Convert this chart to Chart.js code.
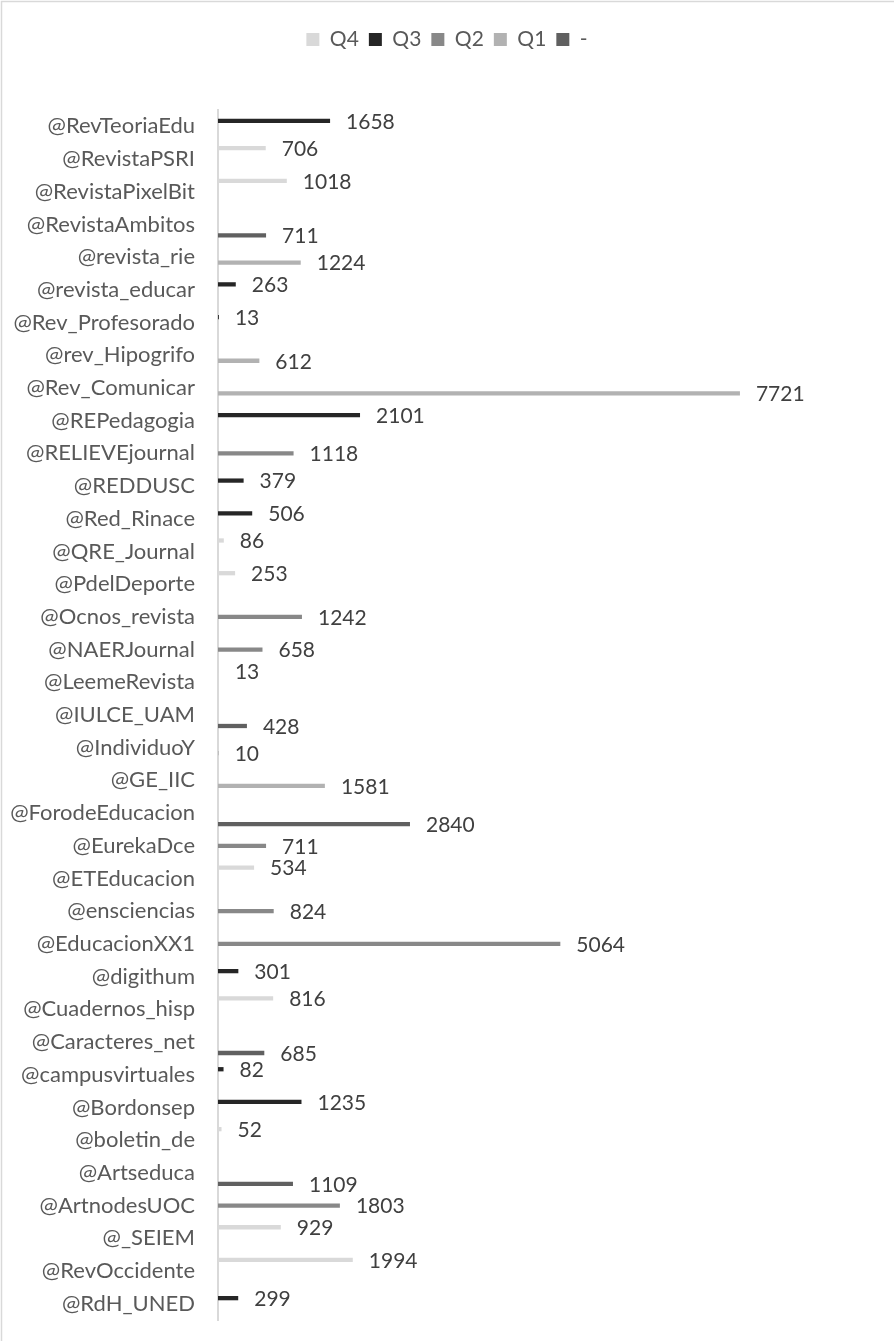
<!DOCTYPE html>
<html>
<head>
<meta charset="utf-8">
<script src="https://cdn.jsdelivr.net/npm/chart.js@4/dist/chart.umd.min.js"></script>
<style>
  html, body { margin: 0; padding: 0; background: #ffffff; }
  #wrap { width: 894px; height: 1341px; position: relative; }
  canvas { display: block; }
</style>
</head>
<body>
<div id="wrap"><canvas id="c" width="894" height="1341"></canvas></div>
<script>
// ---- Data ----
const categories = [
  "@RevTeoriaEdu", "@RevistaPSRI", "@RevistaPixelBit", "@RevistaAmbitos", "@revista_rie",
  "@revista_educar", "@Rev_Profesorado", "@rev_Hipogrifo", "@Rev_Comunicar", "@REPedagogia",
  "@RELIEVEjournal", "@REDDUSC", "@Red_Rinace", "@QRE_Journal", "@PdelDeporte",
  "@Ocnos_revista", "@NAERJournal", "@LeemeRevista", "@IULCE_UAM", "@IndividuoY",
  "@GE_IIC", "@ForodeEducacion", "@EurekaDce", "@ETEducacion", "@ensciencias",
  "@EducacionXX1", "@digithum", "@Cuadernos_hisp", "@Caracteres_net", "@campusvirtuales",
  "@Bordonsep", "@boletin_de", "@Artseduca", "@ArtnodesUOC", "@_SEIEM",
  "@RevOccidente", "@RdH_UNED"
];
const seriesNames = ["Q4", "Q3", "Q2", "Q1", "-"];
const n = null;
const valuesQ4   = [n,  706, 1018,    n,    n,    n,    n,    n,    n,    n,    n,    n,    n,   86,  253,    n,    n,   13,    n,    n,    n,    n,    n,  534,    n,    n,    n,  816,    n,    n,    n,   52,    n,    n,  929, 1994,    n];
const valuesQ3   = [1658,  n,    n,    n,    n,  263,   13,    n,    n, 2101,    n,  379,  506,    n,    n,    n,    n,    n,    n,    n,    n,    n,    n,    n,    n,    n,  301,    n,    n,   82, 1235,    n,    n,    n,    n,    n,  299];
const valuesQ2   = [n,    n,    n,    n,    n,    n,    n,    n,    n,    n, 1118,    n,    n,    n,    n, 1242,  658,    n,    n,    n,    n,    n,  711,    n,  824, 5064,    n,    n,    n,    n,    n,    n,    n, 1803,    n,    n,    n];
const valuesQ1   = [n,    n,    n,    n, 1224,    n,    n,  612, 7721,    n,    n,    n,    n,    n,    n,    n,    n,    n,    n,   10, 1581,    n,    n,    n,    n,    n,    n,    n,    n,    n,    n,    n,    n,    n,    n,    n,    n];
const valuesDash = [n,    n,    n,  711,    n,    n,    n,    n,    n,    n,    n,    n,    n,    n,    n,    n,    n,    n,  428,    n,    n, 2840,    n,    n,    n,    n,    n,    n,  685,    n,    n,    n, 1109,    n,    n,    n,    n];
const axisMin = 0;
const axisMax = 10000;

// ---- Styles ----
const seriesColors = ["#d9d9d9", "#262626", "#888888", "#b2b2b2", "#606060"];
const FONT = "Lato, 'Open Sans', sans-serif";

const allValues = [valuesQ4, valuesQ3, valuesQ2, valuesQ1, valuesDash];

const borderPlugin = {
  id: 'outerBorder',
  beforeDraw(chart) {
    const ctx = chart.ctx;
    ctx.save();
    ctx.fillStyle = '#ffffff';
    ctx.fillRect(0, 0, chart.width, chart.height);
    ctx.strokeStyle = '#d9d9d9';
    ctx.lineWidth = 1.5;
    ctx.strokeRect(1.5, 1.5, chart.width + 20, chart.height + 20);
    ctx.restore();
  }
};

const legendSpace = {
  id: 'legendSpace',
  beforeLayout(chart) {
    const lg = chart.legend;
    if (lg && !lg._patched) {
      const orig = lg.fit;
      lg.fit = function () { orig.apply(this, arguments); this.height += 50; };
      lg._patched = true;
    }
  }
};

const valueLabels = {
  id: 'valueLabels',
  afterDatasetsDraw(chart) {
    const ctx = chart.ctx;
    ctx.save();
    ctx.font = "21px " + FONT;
    ctx.fillStyle = '#404040';
    ctx.textAlign = 'left';
    ctx.textBaseline = 'middle';
    chart.data.datasets.forEach((ds, i) => {
      const meta = chart.getDatasetMeta(i);
      if (meta.hidden) return;
      meta.data.forEach((el, j) => {
        const v = ds.data[j];
        if (v === null || v === undefined) return;
        ctx.fillText(String(v), el.x + 16, el.y + 1);
      });
    });
    ctx.restore();
  }
};

new Chart(document.getElementById('c'), {
  type: 'bar',
  data: {
    labels: categories,
    datasets: seriesNames.map((name, i) => ({
      label: name,
      data: allValues[i],
      backgroundColor: seriesColors[i],
      borderWidth: 0,
      categoryPercentage: 0.84,
      barPercentage: 0.78
    }))
  },
  options: {
    indexAxis: 'y',
    responsive: false,
    animation: false,
    layout: { padding: { top: 19, left: 0, right: 0, bottom: 21 } },
    plugins: {
      legend: {
        display: true,
        position: 'top',
        labels: {
          font: { family: FONT, size: 21 },
          color: '#595959',
          boxWidth: 13,
          boxHeight: 13,
          padding: 10
        }
      },
      tooltip: { enabled: false }
    },
    scales: {
      x: { display: false, min: axisMin, max: axisMax },
      y: {
        afterFit(scale) {
          scale.width = 218;
          scale.paddingTop = 0;
          scale.paddingBottom = 0;
        },
        grid: { display: false, drawTicks: false },
        border: { display: true, color: '#d9d9d9', width: 2 },
        ticks: {
          font: { family: FONT, size: 22 },
          color: '#595959',
          padding: 23,
          autoSkip: false
        }
      }
    }
  },
  plugins: [borderPlugin, legendSpace, valueLabels]
});
</script>
</body>
</html>
